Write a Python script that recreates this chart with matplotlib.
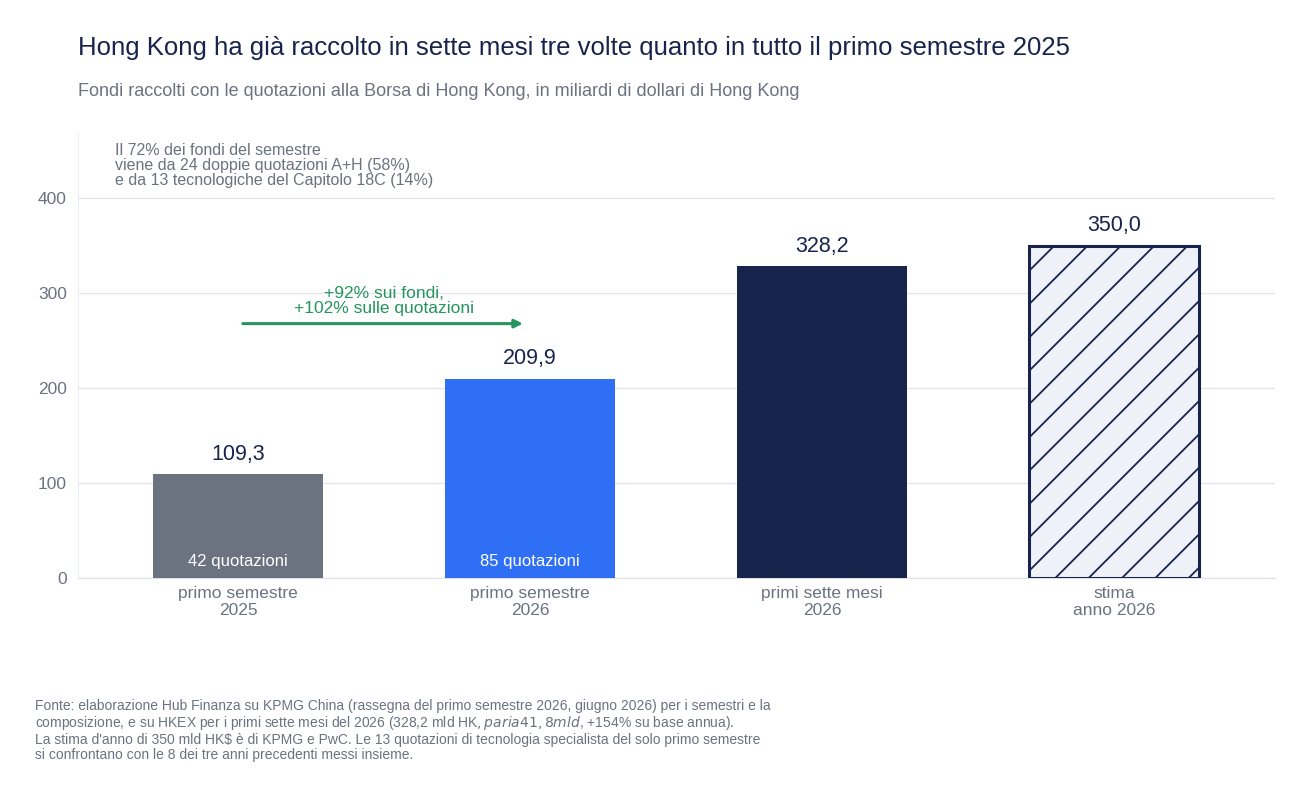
import matplotlib.pyplot as plt

plt.rcParams['font.family'] = ['Liberation Sans', 'DejaVu Sans']
plt.rcParams['hatch.linewidth'] = 1.3

categories = ["primo semestre\n2025", "primo semestre\n2026", "primi sette mesi\n2026", "stima\nanno 2026"]
values = [109.3, 209.9, 328.2, 350.0]
listings = ["42 quotazioni", "85 quotazioni", None, None]
colors = ["#6b7280", "#2f6ff5", "#18244c", "#eef1f8"]
NAVY = "#18244c"
GREY = "#6b7280"
GREEN = "#25945f"

fig = plt.figure(figsize=(13.12, 7.98), dpi=100)
ax = fig.add_axes([0.0595, 0.2757, 0.912, 0.559])
x = list(range(len(values)))
bars = ax.bar(x, values, width=0.58, color=colors, zorder=3)
bars[3].set_hatch("/")
bars[3].set_edgecolor(NAVY)
bars[3].set_linewidth(2.2)

for xi, v, lab in zip(x, values, listings):
    ax.text(xi, v + 10, f"{v:.1f}".replace(".", ","), ha="center", va="bottom",
            fontsize=15.5, color=NAVY)
    if lab:
        ax.text(xi, 9, lab, ha="center", va="bottom", fontsize=12, color="white")

ax.set_xlim(-0.548, 3.55)
ax.set_ylim(0, 470)
ax.set_yticks([0, 100, 200, 300, 400])
ax.set_xticks(x)
ax.set_xticklabels(categories, fontsize=12.5, color=GREY, linespacing=1.1)
ax.tick_params(axis="y", labelsize=12.5, labelcolor=GREY, length=0, pad=8)
ax.tick_params(axis="x", length=0, pad=6)
ax.grid(axis="y", color="#e3e6ec", linewidth=1, zorder=0)
for s in ["top", "right"]:
    ax.spines[s].set_visible(False)
ax.spines["left"].set_color("#eceef2")
ax.spines["bottom"].set_color("#dfe2e8")

ax.annotate("", xy=(0.985, 268), xytext=(0.007, 268),
            arrowprops=dict(arrowstyle="-|>", color=GREEN, lw=2.2, mutation_scale=12))
ax.text(0.5, 292, "+92% sui fondi,\n+102% sulle quotazioni", ha="center", va="center",
        fontsize=12.5, color=GREEN, linespacing=1.05)

ax.text(0.031, 0.975, "Il 72% dei fondi del semestre\nviene da 24 doppie quotazioni A+H (58%)\n"
        "e da 13 tecnologiche del Capitolo 18C (14%)", transform=ax.transAxes,
        ha="left", va="top", fontsize=11.5, color=GREY, linespacing=1.0)

fig.text(0.0595, 0.94, "Hong Kong ha già raccolto in sette mesi tre volte quanto in tutto il primo semestre 2025",
         fontsize=18.5, color=NAVY, va="center")
fig.text(0.0595, 0.885, "Fondi raccolti con le quotazioni alla Borsa di Hong Kong, in miliardi di dollari di Hong Kong",
         fontsize=13, color=GREY, va="center")
fig.text(0.027, 0.045,
         "Fonte: elaborazione Hub Finanza su KPMG China (rassegna del primo semestre 2026, giugno 2026) per i semestri e la\n"
         "composizione, e su HKEX per i primi sette mesi del 2026 (328,2 mld HK$, pari a 41,8 mld $, +154% su base annua).\n"
         "La stima d'anno di 350 mld HK$ è di KPMG e PwC. Le 13 quotazioni di tecnologia specialista del solo primo semestre\n"
         "si confrontano con le 8 dei tre anni precedenti messi insieme.",
         fontsize=10, color=GREY, va="bottom", linespacing=1.1)

fig.savefig("out.png", dpi=100, facecolor="white")
